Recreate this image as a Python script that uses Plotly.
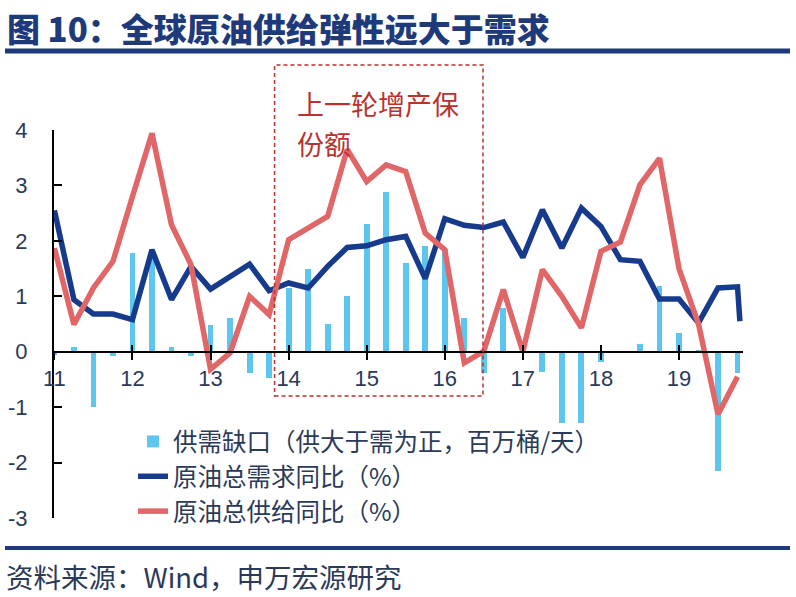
import plotly.graph_objects as go

quarters = [
    "2011Q1", "2011Q2", "2011Q3", "2011Q4", "2012Q1", "2012Q2", "2012Q3", "2012Q4",
    "2013Q1", "2013Q2", "2013Q3", "2013Q4", "2014Q1", "2014Q2", "2014Q3", "2014Q4",
    "2015Q1", "2015Q2", "2015Q3", "2015Q4", "2016Q1", "2016Q2", "2016Q3", "2016Q4",
    "2017Q1", "2017Q2", "2017Q3", "2017Q4", "2018Q1", "2018Q2", "2018Q3", "2018Q4",
    "2019Q1", "2019Q2", "2019Q3", "2019Q4",
]
gap = [-0.06, 0.08, -1.0, -0.07, 1.78, 1.75, 0.08, -0.08,
       0.48, 0.6, -0.38, -0.47, 1.15, 1.5, 0.5, 1.01,
       2.3, 2.89, 1.6, 1.9, 1.85, 0.6, -0.38, 0.79,
       0.02, -0.36, -1.28, -1.28, -0.18, -0.03, 0.14, 1.18,
       0.34, 0.02, -2.15, -0.38]
demand = [2.55, 0.94, 0.68, 0.68, 0.58, 1.84, 0.94, 1.54,
          1.13, 1.36, 1.58, 1.1, 1.24, 1.15, 1.54, 1.88,
          1.91, 2.02, 2.08, 1.32, 2.4, 2.28, 2.24, 2.34,
          1.7, 2.56, 1.87, 2.59, 2.26, 1.66, 1.63, 0.95,
          0.95, 0.52, 1.15, 1.17]
demand_latest = 0.55  # latest monthly reading, drawn right after the last quarter
supply = [1.87, 0.49, 1.15, 1.63, 2.8, 3.94, 2.29, 1.57,
          -0.32, -0.02, 1.0, 0.67, 2.02, 2.23, 2.44, 3.65,
          3.07, 3.37, 3.25, 2.14, 1.84, -0.2, 0.01, 1.12,
          0.0, 1.48, 1.0, 0.43, 1.81, 1.98, 3.01, 3.49,
          1.5, 0.5, -1.13, -0.45]
year_ticks = [2011, 2012, 2013, 2014, 2015, 2016, 2017, 2018, 2019]
year_labels = ["11", "12", "13", "14", "15", "16", "17", "18", "19"]
y_ticks = [-3, -2, -1, 0, 1, 2, 3, 4]
y_labels = ["-3", "-2", "-1", "0", "1", "2", "3", "4"]

names = ["供需缺口（供大于需为正，百万桶/天）", "原油总需求同比（%）", "原油总供给同比（%）"]
title_text = "图 10：全球原油供给弹性远大于需求"
source_text = "资料来源：Wind，申万宏源研究"
box_text = ["上一轮增产保", "份额"]

x = [int(q[:4]) + (int(q[-1]) - 1) / 4 for q in quarters]
x_dem = x + [x[-1] + 0.03]
y_dem = demand + [demand_latest]

NAVY = "#1f3a7a"
TXT = "#2b3a58"
BLUE = "#173b8c"
RED = "#e06668"
BAR = "#5cc6ef"
DRED = "#b8322f"
NUMF = "Liberation Sans, Arial, Noto Sans CJK SC"
CJKF = "Noto Sans CJK SC, Liberation Sans"

W, H = 796, 597
L, R, T, B = 54, 53, 130, 79
pw, ph = W - L - R, H - T - B

def px(xp):
    return (xp - L) / pw

def py(yp):
    return (H - B - yp) / ph

fig = go.Figure()
fig.add_trace(go.Bar(x=x, y=gap, name=names[0], marker_color=BAR, width=0.075,
                     marker_line_width=0))
fig.add_trace(go.Scatter(x=x_dem, y=y_dem, name=names[1], mode="lines",
                         line=dict(color=BLUE, width=5.5), cliponaxis=False))
fig.add_trace(go.Scatter(x=x, y=supply, name=names[2], mode="lines",
                         line=dict(color=RED, width=5.5), cliponaxis=False))

ymin, ymax = y_ticks[0], y_ticks[-1]
zero_pos = (0 - ymin) / (ymax - ymin)

fig.update_layout(
    width=W, height=H,
    margin=dict(l=L, r=R, t=T, b=B, autoexpand=False),
    paper_bgcolor="white", plot_bgcolor="white",
    showlegend=True,
    bargap=0,
    title=dict(text=title_text, xref="container", yref="container",
               x=7 / W, y=1 - 30 / H, xanchor="left", yanchor="middle",
               font=dict(family=CJKF, size=33, color=NAVY, weight=900)),
    legend=dict(x=px(133), y=py(419), xanchor="left", yanchor="top",
                bgcolor="rgba(0,0,0,0)", font=dict(family=CJKF, size=24.5, color=TXT),
                traceorder="normal", tracegroupgap=0),
    xaxis=dict(range=[2010.995, 2019.82], anchor="free", position=zero_pos,
               tickvals=year_ticks, ticktext=year_labels, automargin=False,
               ticks="outside", ticklen=7, tickwidth=2, tickcolor="black",
               showline=True, linecolor="black", linewidth=2,
               showgrid=False, zeroline=False,
               tickfont=dict(family=NUMF, size=22, color=TXT)),
    xaxis2=dict(range=[2010.995, 2019.82], overlaying="x", anchor="free",
                position=zero_pos, tickvals=year_ticks, ticks="inside",
                ticklen=7, tickwidth=2, tickcolor="black", showticklabels=False,
                showline=False, showgrid=False, zeroline=False, automargin=False),
    yaxis=dict(range=[ymin, ymax], tickvals=y_ticks, ticktext=y_labels,
               ticks="inside", ticklen=8,
               tickwidth=2, tickcolor="black", showline=True, linecolor="black",
               linewidth=2, showgrid=False, zeroline=False, ticklabelstandoff=20,
               automargin=False,
               tickfont=dict(family=NUMF, size=22, color=TXT)),
)
# invisible trace to activate xaxis2 ticks
fig.add_trace(go.Scatter(x=[year_ticks[0]], y=[0], xaxis="x2", mode="markers",
                         marker=dict(opacity=0), showlegend=False, hoverinfo="skip"))

# rules
fig.add_shape(type="line", xref="paper", yref="paper", x0=px(5), x1=px(790),
              y0=py(51), y1=py(51), line=dict(color=NAVY, width=5))
fig.add_shape(type="line", xref="paper", yref="paper", x0=px(5), x1=px(790),
              y0=py(548), y1=py(548), line=dict(color=NAVY, width=4))
# highlight box
fig.add_shape(type="rect", xref="x", yref="paper", x0=2013.82, x1=2016.49,
              y0=py(396), y1=py(65), line=dict(color=DRED, width=1.5, dash="4px,3px"))
fig.add_annotation(xref="paper", yref="paper", x=px(295), y=py(103), text=box_text[0],
                   showarrow=False, xanchor="left", yanchor="middle",
                   font=dict(family=CJKF, size=27, color=DRED))
fig.add_annotation(xref="paper", yref="paper", x=px(295), y=py(143), text=box_text[1],
                   showarrow=False, xanchor="left", yanchor="middle",
                   font=dict(family=CJKF, size=27, color=DRED))
fig.add_annotation(xref="paper", yref="paper", x=px(4), y=py(576), text=source_text,
                   showarrow=False, xanchor="left", yanchor="middle",
                   font=dict(family=CJKF, size=27.5, color=TXT))

fig.write_html("out.html")
